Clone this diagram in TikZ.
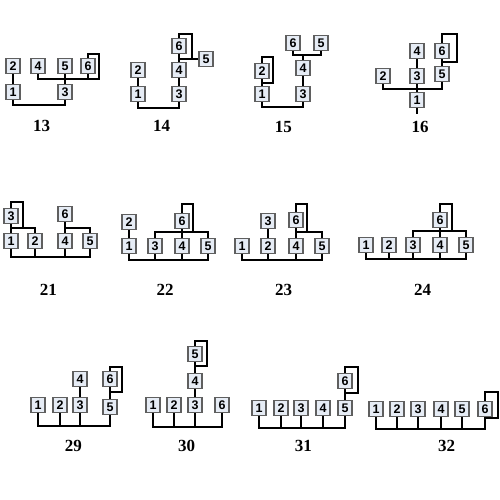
\documentclass[tikz,border=0pt]{standalone}
\usepackage{fontspec}
\setmainfont{Liberation Serif}
\newfontfamily\boxfont{Liberation Sans}
\definecolor{boxline}{RGB}{95,95,95}
\definecolor{boxfill}{RGB}{230,236,245}
\begin{document}
\begin{tikzpicture}[x=1pt,y=-1pt,
  bx/.style={draw=boxline,line width=1.4pt,fill=boxfill,
    minimum width=14pt,minimum height=15pt,inner sep=0pt,
    font=\boxfont\bfseries\fontsize{12.5}{13}\selectfont},
  ln/.style={line width=2pt,black},
  lab/.style={font=\bfseries\fontsize{17}{17}\selectfont}]
\useasboundingbox (0,0) rectangle (500,500);
\fill[white] (0,0) rectangle (500,500);

% ---------- 13 ----------
\node[bx] (A2) at (13,66) {2};
\node[bx] (A4) at (38,66) {4};
\node[bx] (A5) at (65,66) {5};
\node[bx] (A6) at (88,66) {6};
\node[bx] (A1) at (13,92) {1};
\node[bx] (A3) at (65,92) {3};
\coordinate (cA) at (99,79);
\draw[ln] (A2.south) -- (A1.north);
\draw[ln] (A1.south) -- ++(0,4.5) -| (A3.south);
\draw[ln] (A6.north) -- ++(0,-3.5) -| (cA) -| (A4.south);
\draw[ln] (A6.south) -- (A6.south |- cA);
\draw[ln] (A5.south) -- (A3.north);
\node[lab] (tA) at (41.7,126) {13};

% ---------- 14 ----------
\node[bx] (B2) at (138,70) {2};
\node[bx] (B1) at (138,94) {1};
\node[bx] (B3) at (179,94) {3};
\node[bx] (B4) at (179,70) {4};
\node[bx] (B6) at (179,46) {6};
\node[bx] (B5) at (206,59) {5};
\coordinate (cB) at (192,59);
\draw[ln] (B2.south) -- (B1.north);
\draw[ln] (B3.north) -- (B4.south);
\draw[ln] (B1.south) -- ++(0,5.5) -| (B3.south);
\draw[ln] (B4.north) -- (B6.south);
\draw[ln] (B6.south |- B5.west) -- (B5.west);
\draw[ln] (B6.north) -- ++(0,-3.5) -| (cB);
\node[lab] (tB) at (161.7,126) {14};

% ---------- 15 ----------
\node[bx] (C6) at (293,43) {6};
\node[bx] (C5) at (321,43) {5};
\node[bx] (C4) at (303,68) {4};
\node[bx] (C2) at (262,71) {2};
\node[bx] (C1) at (262,94) {1};
\node[bx] (C3) at (303,94) {3};
\coordinate (uC) at (303,55);
\coordinate (lC) at (273,83);
\draw[ln] (C1.south) -- ++(0,4.5) -| (C3.south);
\draw[ln] (C3.north) -- (C4.south);
\draw[ln] (C6.south) |- (uC) -| (C5.south);
\draw[ln] (C4.north) -- (uC);
\draw[ln] (C2.south) -- (C1.north);
\draw[ln] (C2.north) -- ++(0,-5.5) -| (lC) -- (lC -| C2);
\node[lab] (tC) at (283.3,126.7) {15};

% ---------- 16 ----------
\node[bx] (D4) at (417,51) {4};
\node[bx] (D6) at (442,51) {6};
\node[bx] (D2) at (383,76) {2};
\node[bx] (D3) at (417,76) {3};
\node[bx] (D5) at (442,74) {5};
\node[bx] (D1) at (417,100) {1};
\coordinate (bD) at (417,89);
\coordinate (lD) at (457,62);
\draw[ln] (D4.south) -- (D3.north);
\draw[ln] (D6.south) -- (D5.north);
\draw[ln] (D2.south) |- (bD) -| (D5.south);
\draw[ln] (D3.south) -- (D1.north);
\draw[ln] (D1.south) -- ++(0,6);
\draw[ln] (D6.north) -- ++(0,-8.5) -| (lD) -- (lD -| D6);
\node[lab] (tD) at (420,126.7) {16};

% ---------- 21 ----------
\node[bx] (E3) at (11,216) {3};
\node[bx] (E1) at (11,241) {1};
\node[bx] (E2) at (35,241) {2};
\node[bx] (E6) at (65,214) {6};
\node[bx] (E4) at (65,241) {4};
\node[bx] (E5) at (90,241) {5};
\coordinate (bE) at (35,257);
\coordinate (uE) at (11,228);
\coordinate (lE) at (23,228);
\coordinate (vE) at (65,228);
\draw[ln] (E1.south) |- (bE) -| (E5.south);
\draw[ln] (E2.south) -- (bE);
\draw[ln] (E4.south) -- (E4.south |- bE);
\draw[ln] (E1.north) -- (uE) -| (E2.north);
\draw[ln] (E3.south) -- (uE);
\draw[ln] (E3.north) -- ++(0,-5.5) -| (lE);
\draw[ln] (E6.south) -- (E4.north);
\draw[ln] (vE) -| (E5.north);
\node[lab] (tE) at (48.3,290) {21};

% ---------- 22 ----------
\node[bx] (F2) at (129,222) {2};
\node[bx] (F1) at (129,246) {1};
\node[bx] (F3) at (155,246) {3};
\node[bx] (F4) at (182,246) {4};
\node[bx] (F5) at (208,246) {5};
\node[bx] (F6) at (182,221) {6};
\coordinate (uF) at (182,232);
\coordinate (lF) at (193,232);
\coordinate (bF) at (155,260);
\draw[ln] (F2.south) -- (F1.north);
\draw[ln] (F3.north) |- (uF) -| (F5.north);
\draw[ln] (F6.south) -- (F4.north);
\draw[ln] (F6.north) -- ++(0,-8.5) -| (lF);
\draw[ln] (F1.south) |- (bF) -| (F5.south);
\draw[ln] (F3.south) -- (bF);
\draw[ln] (F4.south) -- (F4.south |- bF);
\node[lab] (tF) at (165,290) {22};

% ---------- 23 ----------
\node[bx] (G1) at (242,246) {1};
\node[bx] (G2) at (268,246) {2};
\node[bx] (G3) at (268,221) {3};
\node[bx] (G6) at (296,220) {6};
\node[bx] (G4) at (296,246) {4};
\node[bx] (G5) at (322,246) {5};
\coordinate (uG) at (296,232);
\coordinate (lG) at (307,232);
\coordinate (bG) at (268,260);
\draw[ln] (G3.south) -- (G2.north);
\draw[ln] (G6.south) -- (G4.north);
\draw[ln] (uG) -| (G5.north);
\draw[ln] (G6.north) -- ++(0,-7.5) -| (lG);
\draw[ln] (G1.south) |- (bG) -| (G5.south);
\draw[ln] (G2.south) -- (bG);
\draw[ln] (G4.south) -- (G4.south |- bG);
\node[lab] (tG) at (283.5,290) {23};

% ---------- 24 ----------
\node[bx] (H1) at (366,245) {1};
\node[bx] (H2) at (389,245) {2};
\node[bx] (H3) at (413,245) {3};
\node[bx] (H4) at (440,245) {4};
\node[bx] (H5) at (466,245) {5};
\node[bx] (H6) at (440,220) {6};
\coordinate (uH) at (440,231);
\coordinate (lH) at (452,231);
\coordinate (bH) at (413,259);
\draw[ln] (H3.north) |- (uH) -| (H5.north);
\draw[ln] (H6.south) -- (H4.north);
\draw[ln] (H6.north) -- ++(0,-7.5) -| (lH);
\draw[ln] (H1.south) |- (bH) -| (H5.south);
\draw[ln] (H2.south) -- (H2.south |- bH);
\draw[ln] (H3.south) -- (bH);
\draw[ln] (H4.south) -- (H4.south |- bH);
\node[lab] (tH) at (422.5,290) {24};

% ---------- 29 ----------
\node[bx] (I1) at (38,405) {1};
\node[bx] (I2) at (60,405) {2};
\node[bx] (I3) at (80,405) {3};
\node[bx] (I4) at (80,379) {4};
\node[bx] (I6) at (110,379) {6};
\node[bx] (I5) at (110,407) {5};
\coordinate (lI) at (122,392);
\coordinate (bI) at (60,426);
\draw[ln] (I4.south) -- (I3.north);
\draw[ln] (I6.south) -- (I5.north);
\draw[ln] (I6.north) -- ++(0,-3.5) -| (lI) -- (lI -| I6);
\draw[ln] (I1.south) |- (bI) -| (I5.south);
\draw[ln] (I2.south) -- (bI);
\draw[ln] (I3.south) -- (I3.south |- bI);
\node[lab] (tI) at (73.3,445.5) {29};

% ---------- 30 ----------
\node[bx] (J1) at (153,405) {1};
\node[bx] (J2) at (174,405) {2};
\node[bx] (J3) at (195,405) {3};
\node[bx] (J6) at (222,405) {6};
\node[bx] (J4) at (195,381) {4};
\node[bx] (J5) at (195,354) {5};
\coordinate (lJ) at (207,366);
\coordinate (bJ) at (174,427);
\draw[ln] (J3.north) -- (J4.south);
\draw[ln] (J4.north) -- (J5.south);
\draw[ln] (J5.north) -- ++(0,-4.5) -| (lJ) -- (lJ -| J5);
\draw[ln] (J1.south) |- (bJ) -| (J6.south);
\draw[ln] (J2.south) -- (bJ);
\draw[ln] (J3.south) -- (J3.south |- bJ);
\node[lab] (tJ) at (186.7,445.5) {30};

% ---------- 31 ----------
\node[bx] (K1) at (259,408) {1};
\node[bx] (K2) at (281,408) {2};
\node[bx] (K3) at (301,408) {3};
\node[bx] (K4) at (323,408) {4};
\node[bx] (K5) at (345,408) {5};
\node[bx] (K6) at (345,381) {6};
\coordinate (lK) at (358,393);
\coordinate (bK) at (301,428);
\draw[ln] (K6.south) -- (K5.north);
\draw[ln] (K6.north) -- ++(0,-5.5) -| (lK) -- (lK -| K6);
\draw[ln] (K1.south) |- (bK) -| (K5.south);
\draw[ln] (K2.south) -- (K2.south |- bK);
\draw[ln] (K3.south) -- (bK);
\draw[ln] (K4.south) -- (K4.south |- bK);
\node[lab] (tK) at (303.3,445.7) {31};

% ---------- 32 ----------
\node[bx] (L1) at (376,409) {1};
\node[bx] (L2) at (397,409) {2};
\node[bx] (L3) at (418,409) {3};
\node[bx] (L4) at (441,409) {4};
\node[bx] (L5) at (462,409) {5};
\node[bx] (L6) at (485,409) {6};
\coordinate (lL) at (498,418);
\coordinate (bL) at (418,429);
\draw[ln] (L6.north) -- ++(0,-8.5) -| (lL) -- (lL -| L6);
\draw[ln] (L1.south) |- (bL) -| (L6.south);
\draw[ln] (L2.south) -- (L2.south |- bL);
\draw[ln] (L3.south) -- (bL);
\draw[ln] (L4.south) -- (L4.south |- bL);
\draw[ln] (L5.south) -- (L5.south |- bL);
\node[lab] (tL) at (446.7,445.7) {32};
\end{tikzpicture}
\end{document}
